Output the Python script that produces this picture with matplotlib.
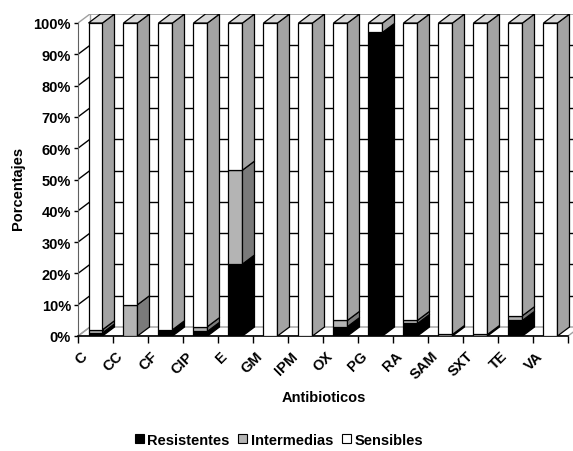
import matplotlib
matplotlib.use("Agg")
import matplotlib.pyplot as plt
from matplotlib.patches import Polygon, Patch
from matplotlib.transforms import ScaledTranslation

# Datos (porcentajes)
antibioticos = ["C", "CC", "CF", "CIP", "E", "GM", "IPM", "OX", "PG", "RA",
                "SAM", "SXT", "TE", "VA"]
resistentes = [1, 0, 2, 1.5, 23, 0, 0, 3, 97, 4, 0, 0, 5, 0]
intermedias = [1, 10, 0, 1.5, 30, 0, 0, 2, 0, 1, 0.5, 0.5, 1.5, 0]
sensibles = [98, 90, 98, 97, 47, 100, 100, 95, 3, 95, 99.5, 99.5, 93.5, 100]
y_ticks = [0, 10, 20, 30, 40, 50, 60, 70, 80, 90, 100]

series = [
    ("Resistentes", resistentes, "#000000", "#000000", "#000000"),
    ("Intermedias", intermedias, "#b4b4b4", "#7a7a7a", "#c8c8c8"),
    ("Sensibles", sensibles, "#ffffff", "#a3a3a3", "#d9d9d9"),
]

plt.rcParams["font.family"] = ["Liberation Sans", "DejaVu Sans"]
plt.rcParams["font.weight"] = "bold"

fig = plt.figure(figsize=(5.73, 4.52), dpi=100)
# 3D depth offset in data units (12 px right, 9 px up)
ddx = 12 / 35
ddy = 9 / 3.13
n = len(antibioticos)
ax = fig.add_axes([78 / 573, 115 / 452, 502 / 573, 322 / 452])
ax.set_xlim(-0.5, n - 0.5 + ddx)
ax.set_ylim(0, 100 + ddy)
ax.patch.set_visible(False)
for side in ["top", "right"]:
    ax.spines[side].set_visible(False)
ax.spines["left"].set_bounds(0, 100)
ax.spines["left"].set_color("#606060")
ax.spines["bottom"].set_bounds(-0.5, n - 0.5)
ax.spines["bottom"].set_linewidth(1.2)

# floor
ax.add_patch(Polygon([(-0.5, 0), (n - 0.5, 0), (n - 0.5 + ddx, ddy), (-0.5 + ddx, ddy)],
                     closed=True, facecolor="white", edgecolor="#a0a0a0", lw=1, zorder=1))
# back wall, left wall and gridlines
x0 = -0.5 + ddx
ax.plot([x0, x0], [ddy, 100 + ddy], color="#a0a0a0", lw=1, zorder=1)
for v in y_ticks[1:-1]:
    ax.plot([-0.5, x0], [v, v + ddy], color="black", lw=1, zorder=1)
    ax.plot([x0, n - 0.5 + ddx], [v + ddy, v + ddy], color="black", lw=1, zorder=1)
ax.plot([-0.5, x0], [100, 100 + ddy], color="#a0a0a0", lw=1, zorder=1)
ax.plot([x0, n - 0.5 + ddx], [100 + ddy, 100 + ddy], color="#a0a0a0", lw=1.2, zorder=1)
ax.plot([-0.5, x0], [0, ddy], color="#a0a0a0", lw=1, zorder=1)

# stacked 3D bars
w = 0.4
xs = list(range(n))
bottoms = [0.0] * n
for label, vals, front, sidec, topc in series:
    ax.bar(xs, vals, bottom=bottoms, width=w, color=front, edgecolor="black",
           linewidth=0.9, zorder=3)
    for i, v in enumerate(vals):
        if v <= 0:
            continue
        b = bottoms[i]
        t = b + v
        xr = i + w / 2
        ax.add_patch(Polygon([(xr, b), (xr + ddx, b + ddy), (xr + ddx, t + ddy), (xr, t)],
                             closed=True, facecolor=sidec, edgecolor="black", lw=0.9, zorder=3))
        if t >= 99.9:
            xl = i - w / 2
            ax.add_patch(Polygon([(xl, t), (xr, t), (xr + ddx, t + ddy), (xl + ddx, t + ddy)],
                                 closed=True, facecolor=topc, edgecolor="black", lw=0.9, zorder=3))
    bottoms = [b + v for b, v in zip(bottoms, vals)]

# axes ticks
ax.set_yticks(y_ticks)
ax.set_yticklabels([f"{v}%" for v in y_ticks], fontsize=10.5, fontweight="bold")
ax.tick_params(axis="y", direction="out", length=3, width=1, pad=2)
ax.set_xticks(xs)
ax.set_xticklabels(antibioticos, rotation=45, ha="right", fontsize=10.5, fontweight="bold")
ax.set_xticks([i - 0.5 for i in range(n + 1)], minor=True)
ax.tick_params(axis="x", which="major", length=0, pad=9)
ax.tick_params(axis="x", which="minor", direction="out", length=5, width=1)
offset = ScaledTranslation(-5 / 100, 0, fig.dpi_scale_trans)
for lbl in ax.get_xticklabels():
    lbl.set_transform(lbl.get_transform() + offset)

fig.text(18 / 573, 1 - 188 / 452, "Porcentajes", rotation=90, ha="center", va="center",
         fontsize=10.5, fontweight="bold")
fig.text(324 / 573, 1 - 398 / 452, "Antibioticos", ha="center", va="center",
         fontsize=10.5, fontweight="bold")

handles = [Patch(facecolor=c, edgecolor="black", lw=0.8) for _, _, c, _, _ in series]
fig.legend(handles, [s[0] for s in series], loc="center", bbox_to_anchor=(279 / 573, 1 - 441 / 452),
           ncol=3, frameon=False, handlelength=0.6, handleheight=0.6,
           handletextpad=0.25, columnspacing=0.6, prop={"weight": "bold", "size": 10.5})

fig.savefig("out.png", dpi=100)
